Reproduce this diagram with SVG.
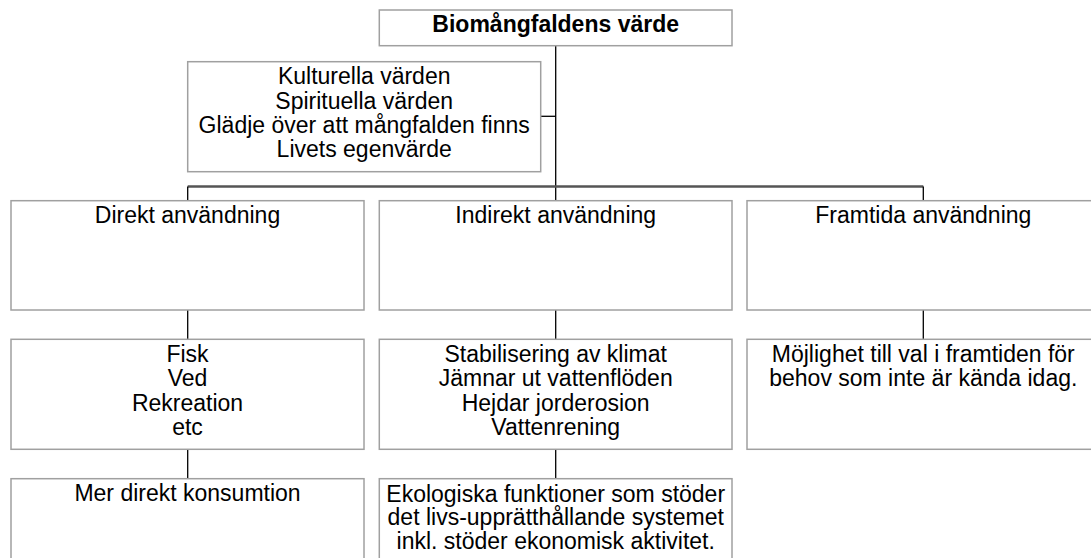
<svg xmlns="http://www.w3.org/2000/svg" width="1091" height="558" viewBox="0 0 1091 558">
<style>
.box{fill:#fff;stroke:#a0a0a0;stroke-width:1.5}
.t{font-family:"Liberation Sans",Arial,sans-serif;font-size:23px;fill:#000;text-anchor:middle}
.b{font-weight:bold}
.c{stroke:#000;stroke-width:1.3;fill:none}
.bar{stroke:#555;stroke-width:2.5;fill:none}
</style>
<rect width="1091" height="558" fill="#fff"/>
<g id="connectors">
<line class="c" x1="555.7" y1="45.7" x2="555.7" y2="200.7"/>
<line class="c" x1="540.7" y1="116.3" x2="555.7" y2="116.3"/>
<line class="bar" x1="187.7" y1="186.5" x2="923.3" y2="186.5"/>
<line class="c" x1="187.7" y1="186.5" x2="187.7" y2="200.7"/>
<line class="c" x1="923.3" y1="186.5" x2="923.3" y2="200.7"/>
<line class="c" x1="187.7" y1="310" x2="187.7" y2="339.3"/>
<line class="c" x1="555.7" y1="310" x2="555.7" y2="339.3"/>
<line class="c" x1="923.3" y1="310" x2="923.3" y2="339.3"/>
<line class="c" x1="187.7" y1="449.3" x2="187.7" y2="478.7"/>
<line class="c" x1="555.7" y1="449.3" x2="555.7" y2="478.7"/>
</g>
<g id="root">
<rect class="box" x="379.3" y="10" width="352.7" height="35.7"/>
<text class="t b" x="555.7" y="32.3">Biomångfaldens värde</text>
</g>
<g id="nonuse">
<rect class="box" x="187.7" y="61.7" width="353" height="110"/>
<text class="t" x="364.2" y="84.3">Kulturella värden</text>
<text class="t" x="364.2" y="108.5">Spirituella värden</text>
<text class="t" x="364.2" y="132.7">Glädje över att mångfalden finns</text>
<text class="t" x="364.2" y="156.9">Livets egenvärde</text>
</g>
<g id="direct">
<rect class="box" x="11" y="200.7" width="353" height="109.3"/>
<text class="t" x="187.5" y="223.3">Direkt användning</text>
</g>
<g id="indirect">
<rect class="box" x="379.3" y="200.7" width="352.7" height="109.3"/>
<text class="t" x="555.7" y="223.3">Indirekt användning</text>
</g>
<g id="future">
<rect class="box" x="747" y="200.7" width="353" height="109.3"/>
<text class="t" x="923.3" y="223.3">Framtida användning</text>
</g>
<g id="direct-examples">
<rect class="box" x="11" y="339.3" width="353" height="110"/>
<text class="t" x="187.5" y="361.7">Fisk</text>
<text class="t" x="187.5" y="386.1">Ved</text>
<text class="t" x="187.5" y="410.5">Rekreation</text>
<text class="t" x="187.5" y="434.9">etc</text>
</g>
<g id="indirect-examples">
<rect class="box" x="379.3" y="339.3" width="352.7" height="110"/>
<text class="t" x="555.7" y="361.7">Stabilisering av klimat</text>
<text class="t" x="555.7" y="386.1">Jämnar ut vattenflöden</text>
<text class="t" x="555.7" y="410.5">Hejdar jorderosion</text>
<text class="t" x="555.7" y="434.9">Vattenrening</text>
</g>
<g id="future-examples">
<rect class="box" x="747" y="339.3" width="353" height="110"/>
<text class="t" x="923.3" y="361.7">Möjlighet till val i framtiden för</text>
<text class="t" x="923.3" y="386.1">behov som inte är kända idag.</text>
</g>
<g id="direct-consumption">
<rect class="box" x="11" y="478.7" width="353" height="110"/>
<text class="t" x="187.5" y="501.2">Mer direkt konsumtion</text>
</g>
<g id="ecological-functions">
<rect class="box" x="379.3" y="478.7" width="352.7" height="110"/>
<text class="t" x="555.7" y="501.7">Ekologiska funktioner som stöder</text>
<text class="t" x="555.7" y="525.1">det livs-upprätthållande systemet</text>
<text class="t" x="555.7" y="548.5">inkl. stöder ekonomisk aktivitet.</text>
</g>
</svg>
